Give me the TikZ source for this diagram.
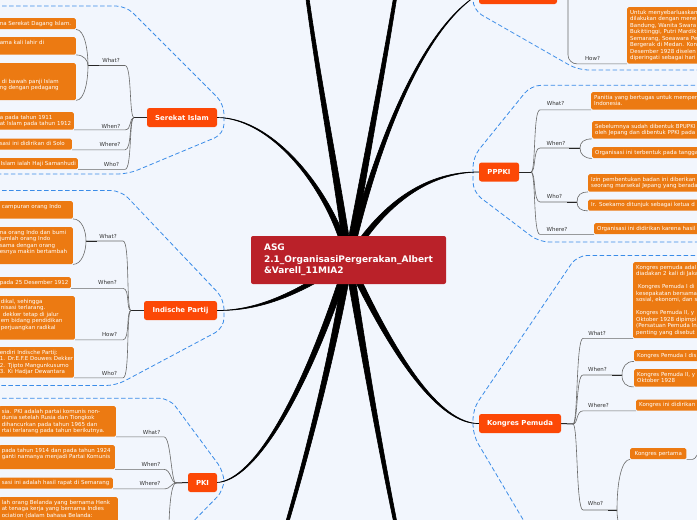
\documentclass[tikz,border=0pt]{standalone}
\usepackage{fontspec}
\setmainfont{DejaVu Sans}
\usetikzlibrary{positioning}

\definecolor{pagebg}{RGB}{242,246,253}
\definecolor{rootred}{RGB}{186,33,41}
\definecolor{topicred}{RGB}{252,72,6}
\definecolor{leaforange}{RGB}{236,122,18}
\definecolor{groupblue}{RGB}{58,140,232}
\definecolor{wiregray}{RGB}{105,105,105}

\pgfdeclarelayer{bg}
\pgfdeclarelayer{wires}
\pgfsetlayers{bg,wires,main}

\begin{document}
\begin{tikzpicture}[
    x=1pt, y=-1pt,
    root/.style={fill=rootred, rounded corners=2pt, text=white, align=left,
                 font=\fontsize{9}{11.7}\selectfont\bfseries,
                 minimum width=195pt, minimum height=48pt},
    topic/.style={fill=topicred, rounded corners=2.5pt, text=white,
                  font=\fontsize{6.9}{8}\selectfont\bfseries, minimum height=19pt},
    leaf/.style={fill=leaforange, rounded corners=1.5pt, text=white, align=left,
                 font=\fontsize{5.5}{6.5}\selectfont, inner xsep=3pt, inner ysep=2.25pt,
                 execute at begin node={\rightskip=0pt plus 1fil minus 40pt\relax\strut},
                 execute at end node=\strut},
    lleaf/.style={leaf, anchor=north east, text width=#1},
    rleaf/.style={leaf, anchor=north west, text width=150pt},
    qlabel/.style={font=\fontsize{5.5}{6}\selectfont, text=black!80, inner sep=0pt},
    wire/.style={draw=wiregray, line width=0.6pt},
    hubline/.style={draw=black!85, line width=1pt},
    trunk/.style={fill=black, draw=black, line width=0.6pt, line join=round},
    group/.style={draw=groupblue, line width=0.8pt, dash pattern=on 4.5pt off 2.5pt,
                  rounded corners=10pt}
]
\useasboundingbox (0,0) rectangle (697,520);
\begin{pgfonlayer}{bg}
\fill[pagebg] (0,0) rectangle (697,520);
% dashed group outlines
\draw[group] (-5,6) -- (126,6) -- (224,104) -- (224,134) -- (128,174) -- (-5,174);
\draw[group] (-5,190.5) -- (121,190.5) -- (224,299) -- (224,328) -- (116,385.5) -- (-5,385.5);
\draw[group] (-5,398.3) -- (169.5,398.3) -- (224,472) -- (224,490) -- (175,540);
\draw[group] (473,-5) -- (473,10) -- (578,70) -- (702,70);
\draw[group] (702,85.3) -- (531,85.3) -- (473,157) -- (473,192) -- (539,242) -- (702,242);
\draw[group] (702,255.5) -- (577,255.5) -- (473,409) -- (473,435) -- (531,533);
\end{pgfonlayer}

% main topics
\node[root] (centre) at (348.5,260) {ASG\\2.1\_OrganisasiPergerakan\_Albert\\\&Varell\_11MIA2};
\node[topic, minimum width=70pt] (serekat) at (182,117.5) {Serekat Islam};
\node[topic, minimum width=73pt] (indische) at (180.5,310.5) {Indische Partij};
\node[topic, minimum width=29pt] (pki) at (202.5,482.5) {PKI};
\node[topic, minimum width=40pt] (pppki) at (499,172) {PPPKI};
\node[topic, minimum width=82pt] (kongres) at (520,423.5) {Kongres Pemuda};
\node[topic, minimum width=78pt, minimum height=20pt] (upper) at (518,-6) {};

\coordinate (sHub) at (134,117.5);
\coordinate (iHub) at (131,310.5);
\coordinate (pHub) at (176,483);
\coordinate (qHub) at (531,172);
\coordinate (kHub) at (573,424);
\coordinate (tHub) at (568,-5);
\coordinate (farA) at (305,-20);
\coordinate (farB) at (398,-20);
\coordinate (farD) at (282,540);
\coordinate (farE) at (400,545);

% Serekat Islam
\node[lleaf=73pt] (sWhat1) at (76,18) {na Serekat Dagang Islam.};
\node[lleaf=73pt] (sWhat2) at (76,37) {ama kali lahir di\\\strut};
\node[lleaf=73pt] (sWhat3) at (76,63) {\strut\\\strut\\\hspace*{2pt}di bawah panji Islam\\ng dengan pedagang\\\strut};
\node[lleaf=71pt] (sWhen) at (74,112) {a pada tahun 1911\\at Islam pada tahun 1912};
\node[lleaf=69pt] (sWhere) at (72,138.5) {sasi ini didirikan di Solo};
\node[lleaf=74pt] (sWho) at (78,158) {Islam ialah Haji Samanhudi};
\node[qlabel] (sWhatQ) at (111,60.5) {What?};
\node[qlabel] (sWhenQ) at (111,126) {When?};
\node[qlabel] (sWhereQ) at (110,144.5) {Where?};
\node[qlabel] (sWhoQ) at (111.5,164) {Who?};

% Indische Partij
\node[lleaf=68pt] (iWhat1) at (73,201) {campuran orang Indo\\\strut};
\node[lleaf=70pt] (iWhat2) at (73,227) {na orang Indo dan bumi\\jumlah orang Indo\\sama dengan orang\\esnya makin bertambah\\\strut};
\node[lleaf=68pt] (iWhen) at (71,277) {pada 25 Desember 1912};
\node[lleaf=71pt] (iHow) at (75,296) {dikal, sehingga\\nisasi terlarang.\\\hspace*{2pt}dekker tetap di jalur\\em bidang pendidikan\\perjuangkan radikal\\\strut};
\node[lleaf=71pt] (iWho) at (74,347) {endiri Indische Partij:\\1. Dr.E.F.E Douwes Dekker\\2. Tjipto Mangunkusumo\\3. Ki Hadjar Dewantara};
\node[qlabel] (iWhatQ) at (108,236) {What?};
\node[qlabel] (iWhenQ) at (107.5,282) {When?};
\node[qlabel] (iHowQ) at (109.5,334) {How?};
\node[qlabel] (iWhoQ) at (109.5,373) {Who?};

% PKI
\node[lleaf=111pt] (pWhat) at (116,406) {sia. PKI adalah partai komunis non-\\dunia setelah Rusia dan Tiongkok\\dihancurkan pada tahun 1965 dan\\rtai terlarang pada tahun berikutnya.};
\node[lleaf=110pt] (pWhen) at (115,445) {pada tahun 1914 dan pada tahun 1924\\ganti namanya menjadi Partai Komunis\\\strut};
\node[lleaf=108pt] (pWhere) at (113,477.5) {sasi ini adalah hasil rapat di Semarang};
\node[lleaf=113pt] (pWho) at (118,497) {lah orang Belanda yang bernama Henk\\at tenaga kerja yang bernama Indies\\ociation (dalam bahasa Belanda:\\\strut\\\strut};
\node[qlabel] (pWhatQ) at (151.5,432) {What?};
\node[qlabel] (pWhenQ) at (151,464) {When?};
\node[qlabel] (pWhereQ) at (150,483) {Where?};

% PPPKI
\node[rleaf] (qWhat) at (591,92) {Panitia yang bertugas untuk memper\\Indonesia.};
\node[rleaf] (qWhen1) at (592,121) {Sebelumnya sudah dibentuk BPUPKI\\oleh Jepang dan dibentuk PPKI pada};
\node[rleaf] (qWhen2) at (592,147) {Organisasi ini terbentuk pada tangga};
\node[rleaf] (qWho1) at (588,174) {Izin pembentukan badan ini diberikan\\seorang marsekal Jepang yang berada};
\node[rleaf] (qWho2) at (588,199.5) {Ir. Soekarno ditunjuk sebagai ketua d};
\node[rleaf] (qWhere) at (594,223) {Organisasi ini didirikan karena hasil};
\node[qlabel] (qWhatQ) at (555.5,103) {What?};
\node[qlabel] (qWhenQ) at (556,143) {When?};
\node[qlabel] (qWhoQ) at (554.5,196) {Who?};
\node[qlabel] (qWhereQ) at (557,229) {Where?};

% upper topic
\node[rleaf] (tHow) at (627,7) {Untuk menyebarluaskan\\dilakukan dengan mene\\Bandung, Wanita Swara\\Bukittinggi, Putri Mardik\\Semarang, Soeawara Pe\\Bergerak di Medan. Kon\\Desember 1928 diselen\\diperingati sebagai hari};
\node[qlabel] (tHowQ) at (592.5,58) {How?};

% Kongres Pemuda
\node[rleaf] (kWhat) at (633,262) {Kongres pemuda adal\\diadakan 2 kali di Jaka\\\strut\\\hspace*{2pt}Kongres Pemuda I di\\kesepakatan bersama\\sosial, ekonomi, dan s\\\strut\\Kongres Pemuda II, y\\Oktober 1928 dipimpi\\(Persatuan Pemuda In\\penting yang disebut};
\node[rleaf] (kWhen1) at (634,350) {Kongres Pemuda I dis};
\node[rleaf] (kWhen2) at (634,369) {Kongres Pemuda II, y\\Oktober 1928};
\node[rleaf] (kWhere) at (636,399.5) {Kongres ini didirikan};
\node[leaf, anchor=north west, inner xsep=4.5pt] (kWho1) at (630,448) {Kongres pertama};
\node[qlabel] (kWhatQ) at (597,333) {What?};
\node[qlabel] (kWhenQ) at (597.5,369) {When?};
\node[qlabel] (kWhereQ) at (598.5,405) {Where?};
\node[qlabel] (kWhoQ) at (595.5,503) {Who?};

\begin{pgfonlayer}{wires}
% trunks from the root
\filldraw[trunk] (serekat.east) .. controls (275,117) and (335.5,195) .. ([xshift=3.5pt]centre.center) -- ([xshift=-3.5pt]centre.center) .. controls (330.5,195) and (275,118.8) .. cycle;
\filldraw[trunk] (indische.east) .. controls (262,311) and (301,294.5) .. ([yshift=-3pt]centre.center) -- ([yshift=3pt]centre.center) .. controls (299,289.5) and (262,310) .. cycle;
\filldraw[trunk] (pki.east) .. controls (255,481) and (307.5,396) .. ([xshift=3.5pt]centre.center) -- ([xshift=-3.5pt]centre.center) .. controls (302.5,394) and (255,479) .. cycle;
\filldraw[trunk] (pppki.west) .. controls (430,171.2) and (383.5,197.5) .. ([xshift=-3.5pt]centre.center) -- ([xshift=3.5pt]centre.center) .. controls (386.5,202.5) and (430,172.8) .. cycle;
\filldraw[trunk] (kongres.west) .. controls (440,424.8) and (393,361.5) .. ([xshift=-3.5pt]centre.center) -- ([xshift=3.5pt]centre.center) .. controls (397,358.5) and (440,423.2) .. cycle;
\filldraw[trunk] (upper.west) .. controls (419,30) and (373,150) .. ([xshift=-3.5pt]centre.center) -- ([xshift=3.5pt]centre.center) .. controls (377,150) and (421,30.5) .. cycle;
\filldraw[trunk] ([xshift=-1.5pt]farA) .. controls (316,80) and (335,180) .. ([xshift=-4pt]centre.center) -- ([xshift=4pt]centre.center) .. controls (341,180) and (320,80) .. ([xshift=1.5pt]farA) -- cycle;
\filldraw[trunk] ([xshift=-1.5pt]farB) .. controls (380,80) and (359,180) .. ([xshift=-4pt]centre.center) -- ([xshift=4pt]centre.center) .. controls (365,180) and (384,80) .. ([xshift=1.5pt]farB) -- cycle;
\filldraw[trunk] ([xshift=-1.5pt]farD) .. controls (310,440) and (335,330) .. ([xshift=-4pt]centre.center) -- ([xshift=4pt]centre.center) .. controls (341,330) and (314,440) .. ([xshift=1.5pt]farD) -- cycle;
\filldraw[trunk] ([xshift=-1.5pt]farE) .. controls (376,440) and (357,330) .. ([xshift=-4pt]centre.center) -- ([xshift=4pt]centre.center) .. controls (363,330) and (380,440) .. ([xshift=1.5pt]farE) -- cycle;

% Serekat Islam wires
\coordinate (sLine) at (125,0);
\coordinate (sWhatHub) at (88,65.5);
\draw[hubline] (serekat.west) -- (sHub);
\draw[wire] (sHub) .. controls +(-5,0) and +(7,0) .. (sWhatHub -| sLine) -- (sWhatHub);
\draw[hubline] (sWhatHub) -- ++(11,0);
\draw[wire] (sWhat1.south east) .. controls +(9,0) and +(0,-14) .. (sWhatHub);
\draw[wire] (sWhat2.south east) .. controls +(8,0) and +(0,-5) .. (sWhatHub);
\draw[wire] (sWhat3.south east) .. controls +(9,0) and +(0,14) .. (sWhatHub);
\draw[wire] (sWhen.south east) -- (sWhen.south east -| sLine) .. controls +(7,0) and +(-5,0) .. (sHub);
\draw[wire] (sWhere.south east) -- (sWhere.south east -| sLine) .. controls +(7,0) and +(-5,0) .. (sHub);
\draw[wire] (sWho.south east) -- (sWho.south east -| sLine) .. controls +(7,0) and +(-5,0) .. (sHub);

% Indische Partij wires
\coordinate (iLine) at (123,0);
\coordinate (iWhatHub) at (86,241);
\draw[hubline] (indische.west) -- (iHub);
\draw[wire] (iHub) .. controls +(-5,0) and +(7,0) .. (iWhatHub -| iLine) -- (iWhatHub);
\draw[hubline] (iWhatHub) -- ++(11,0);
\draw[wire] (iWhat1.south east) .. controls +(9,0) and +(0,-10) .. (iWhatHub);
\draw[wire] (iWhat2.south east) .. controls +(9,0) and +(0,10) .. (iWhatHub);
\draw[wire] (iWhen.south east) -- (iWhen.south east -| iLine) .. controls +(7,0) and +(-5,0) .. (iHub);
\draw[wire] (iHow.south east) -- (iHow.south east -| iLine) .. controls +(7,0) and +(-5,0) .. (iHub);
\draw[wire] (iWho.south east) -- (iWho.south east -| iLine) .. controls +(7,0) and +(-5,0) .. (iHub);

% PKI wires
\coordinate (pLine) at (164,0);
\coordinate (pWhoEnd) at (169,530);
\draw[hubline] (pki.west) -- (pHub);
\draw[wire] (pWhat.south east) -- (pWhat.south east -| pLine) .. controls +(7,0) and +(-5,0) .. (pHub);
\draw[wire] (pWhen.south east) -- (pWhen.south east -| pLine) .. controls +(7,0) and +(-5,0) .. (pHub);
\draw[wire] (pWhere.south east) -- (pWhere.south east -| pLine) .. controls +(7,0) and +(-5,0) .. (pHub);
\draw[wire] (pHub) .. controls +(-5,0) and +(0,-20) .. (pWhoEnd);

% PPPKI wires
\coordinate (qLine) at (540,0);
\coordinate (qWhenHub) at (580,148);
\coordinate (qWhoHub) at (577,202);
\draw[hubline] (pppki.east) -- (qHub);
\draw[wire] (qHub) .. controls +(5,0) and +(-7,0) .. (qWhat.south west -| qLine) -- (qWhat.south west);
\draw[wire] (qHub) .. controls +(5,0) and +(-7,0) .. (qWhenHub -| qLine) -- (qWhenHub);
\draw[hubline] (qWhenHub) -- ++(-11,0);
\draw[wire] (qWhenHub) .. controls +(0,-6) and +(-8,0) .. (qWhen1.south west);
\draw[wire] (qWhenHub) .. controls +(0,6) and +(-8,0) .. (qWhen2.south west);
\draw[wire] (qHub) .. controls +(5,0) and +(-7,0) .. (qWhoHub -| qLine) -- (qWhoHub);
\draw[hubline] (qWhoHub) -- ++(-10,0);
\draw[wire] (qWhoHub) .. controls +(0,-7) and +(-7,0) .. (qWho1.south west);
\draw[wire] (qWhoHub) .. controls +(0,6) and +(-7,0) .. (qWho2.south west);
\draw[wire] (qHub) .. controls +(5,0) and +(-7,0) .. (qWhere.south west -| qLine) -- (qWhere.south west);

% upper topic wire
\draw[wire, rounded corners=9pt] (tHub) |- (tHow.south west);

% Kongres Pemuda wires
\coordinate (kLine) at (583,0);
\coordinate (kWhenHub) at (622,375);
\coordinate (kWhoHub) at (617,510);
\coordinate (kWhoEnd) at (622,540);
\coordinate (kWhoNext) at (700,448);
\draw[hubline] (kongres.east) -- (kHub);
\draw[wire] (kHub) .. controls +(5,0) and +(-7,0) .. (kWhat.south west -| kLine) -- (kWhat.south west);
\draw[wire] (kHub) .. controls +(5,0) and +(-7,0) .. (kWhenHub -| kLine) -- (kWhenHub);
\draw[hubline] (kWhenHub) -- ++(-10,0);
\draw[wire] (kWhenHub) .. controls +(0,-8) and +(-8,0) .. (kWhen1.south west);
\draw[wire] (kWhenHub) .. controls +(0,8) and +(-8,0) .. (kWhen2.south west);
\draw[wire] (kHub) .. controls +(5,0) and +(-7,0) .. (kWhere.south west -| kLine) -- (kWhere.south west);
\draw[wire] (kHub) .. controls +(5,0) and +(-7,0) .. (kWhoHub -| kLine) -- (kWhoHub);
\draw[hubline] (kWhoHub) -- ++(-9,0);
\draw[wire] (kWhoHub) .. controls +(0,-30) and +(-8,0) .. (kWho1.south west);
\draw[wire] (kWhoHub) .. controls +(0,15) and +(0,-10) .. (kWhoEnd);
\draw[wire] (kWho1.south east) -- ++(6,0) .. controls +(3,0) and +(-1,4) .. (kWhoNext);
\end{pgfonlayer}
\end{tikzpicture}
\end{document}
